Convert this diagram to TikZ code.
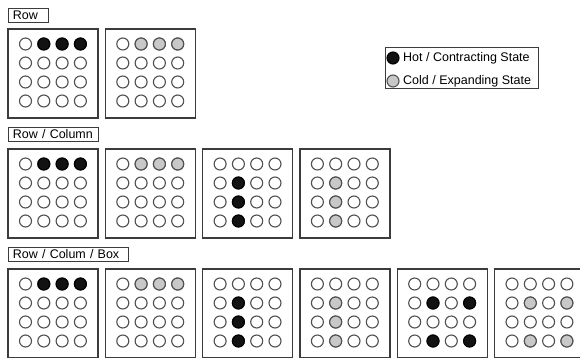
\documentclass[tikz,border=0pt]{standalone}
\usepackage{fontspec}
\setmainfont{Liberation Sans}
\definecolor{hotfill}{RGB}{18,18,18}
\definecolor{coldfill}{RGB}{200,200,200}
\definecolor{ringgray}{RGB}{80,80,80}
\definecolor{framegray}{RGB}{60,60,60}

% one 4x4 board: x, y (top left), style of marked cells, marked cells col/row
\newcommand{\cellboard}[4]{%
  \draw[board] (#1,#2) rectangle ++(90,89);
  \foreach \c in {0,...,3}
    \foreach \r in {0,...,3}
      \draw[cell] (#1+17.5+18.3*\c,#2+15+19*\r) circle (6pt);
  \foreach \c/\r in {#4}
    \draw[#3] (#1+17.5+18.3*\c,#2+15+19*\r) circle (6pt);
}

\begin{document}
\begin{tikzpicture}[x=1pt,y=-1pt,font=\fontsize{12.5}{14}\selectfont,
  board/.style={draw=framegray,line width=1.3pt},
  cell/.style={draw=ringgray,line width=1.1pt,fill=white},
  hot/.style={draw=black,line width=1.1pt,fill=hotfill},
  cold/.style={draw=ringgray,line width=1.1pt,fill=coldfill},
  tag/.style={draw=framegray,line width=0.9pt,anchor=north west,
    inner xsep=4.5pt,inner ysep=0pt,minimum height=14pt,align=left}]
  \useasboundingbox (0,0) rectangle (580,358);
  \clip (0,0) rectangle (580,358);

  % Row
  \node[tag,text width=31pt] (rowtag) at (8,8) {Row};
  \cellboard{8}{29}{hot}{1/0,2/0,3/0}
  \cellboard{105.3}{29}{cold}{1/0,2/0,3/0}

  % legend
  \draw[draw=framegray,line width=0.9pt] (385,47) rectangle (538,88);
  \draw[hot] (393,58) circle (6pt);
  \node[anchor=west,inner sep=0pt] (hotkey) at (403,58) {Hot / Contracting State};
  \draw[cold] (393,81) circle (6pt);
  \node[anchor=west,inner sep=0pt] (coldkey) at (403,81) {Cold / Expanding State};

  % Row / Column
  \node[tag,text width=81pt] (coltag) at (8,127) {Row / Column};
  \cellboard{8}{149}{hot}{1/0,2/0,3/0}
  \cellboard{105.3}{149}{cold}{1/0,2/0,3/0}
  \cellboard{202.6}{149}{hot}{1/1,1/2,1/3}
  \cellboard{299.9}{149}{cold}{1/1,1/2,1/3}

  % Row / Colum / Box
  \node[tag,text width=111pt] (boxtag) at (8,247) {Row / Colum / Box};
  \cellboard{8}{269}{hot}{1/0,2/0,3/0}
  \cellboard{105.3}{269}{cold}{1/0,2/0,3/0}
  \cellboard{202.6}{269}{hot}{1/1,1/2,1/3}
  \cellboard{299.9}{269}{cold}{1/1,1/2,1/3}
  \cellboard{397.2}{269}{hot}{1/1,3/1,1/3,3/3}
  \cellboard{494.5}{269}{cold}{1/1,3/1,1/3,3/3}
\end{tikzpicture}
\end{document}
